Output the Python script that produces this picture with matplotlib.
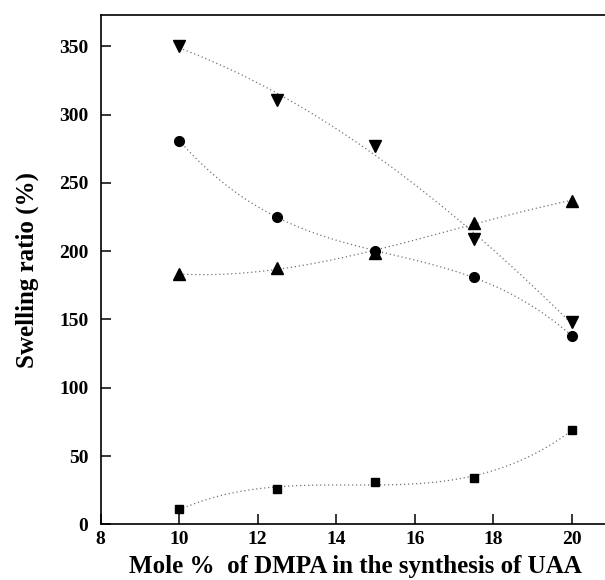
import numpy as np
import matplotlib.pyplot as plt

plt.rcParams['font.family'] = ['Liberation Serif', 'DejaVu Serif']
plt.rcParams['font.weight'] = 'bold'

# mole % of DMPA
mole = [10, 12.5, 15, 17.5, 20]

# swelling ratio (%) for the four series
down_tri = [350, 311, 277, 209, 148]
circle = [281, 225, 200, 181, 138]
up_tri = [183, 188, 199, 221, 237]
square = [11, 26, 31, 34, 69]

xticks = [8, 10, 12, 14, 16, 18, 20]
yticks = [0, 50, 100, 150, 200, 250, 300, 350]


def fitline(ax, x, y):
    # smooth dotted trend through each series
    c = np.polyfit(x, y, 3)
    xs = np.linspace(min(x), max(x), 200)
    ax.plot(xs, np.polyval(c, xs), linestyle=(0, (1, 2.2)), color='0.45', lw=0.9, zorder=1)


fig = plt.figure(figsize=(6.05, 5.8), dpi=100)
ax = fig.add_axes([100.7 / 605, (580 - 524.3) / 580, (611 - 100.7) / 605, (524.3 - 15) / 580])

for y, m, s in [(down_tri, 'v', 8.5), (circle, 'o', 7), (up_tri, '^', 8.5), (square, 's', 6)]:
    fitline(ax, mole, y)
    ax.plot(mole, y, linestyle='none', marker=m, markersize=s, color='black', zorder=3)

ax.set_xlim(8, 21)
ax.set_ylim(0, 373)
ax.set_xticks(xticks)
ax.set_yticks(yticks)
ax.tick_params(direction='in', length=7, width=1.1, labelsize=14)
ax.tick_params(axis='x', pad=5)
ax.tick_params(axis='y', pad=9)
for sp in ax.spines.values():
    sp.set_linewidth(1.2)

ax.set_xlabel('Mole %  of DMPA in the synthesis of UAA', fontsize=18, fontweight='bold', labelpad=5)
ax.set_ylabel('Swelling ratio (%)', fontsize=18, fontweight='bold', labelpad=14)

fig.savefig('out.png', dpi=100)
